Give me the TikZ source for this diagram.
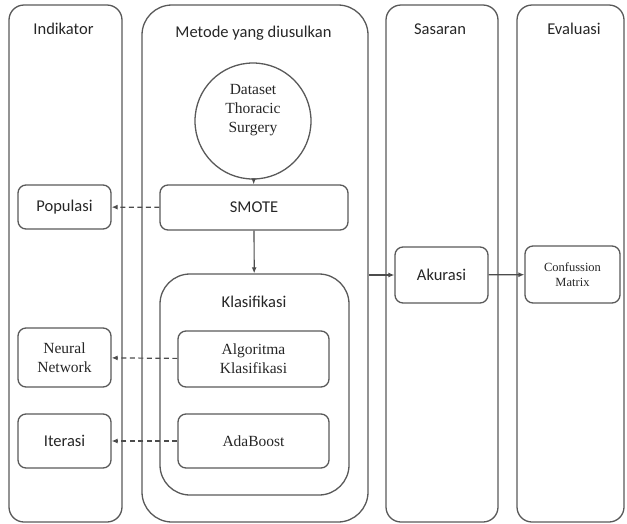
\documentclass[tikz,border=0pt]{standalone}
\usepackage{fontspec}
\setmainfont{Carlito}
\newfontfamily\timesfont{Liberation Serif}
\usetikzlibrary{positioning, arrows.meta}

\begin{document}
\begin{tikzpicture}[
    x=1pt, y=-1pt,
    lane/.style={rectangle, rounded corners=15pt, draw=black!65, line width=1.3pt,
        inner sep=0pt},
    box/.style={rectangle, rounded corners=8pt, draw=black!65, line width=1.3pt,
        align=center, inner sep=0pt, text=black!85,
        font=\fontsize{16.5}{19}\selectfont},
    sbox/.style={box, font=\timesfont\fontsize{15.5}{19}\selectfont},
    title/.style={text=black!85, font=\fontsize{16.5}{19}\selectfont},
    arrow/.style={-{Latex[length=6pt, width=5pt]}, line width=1.2pt, draw=black!70},
    dasharrow/.style={arrow, dashed, dash pattern=on 5pt off 3.5pt}
]
\useasboundingbox (0,0) rectangle (627,523);

\node[lane, minimum width=113pt, minimum height=517pt] (indik) at (65.5,263.5) {};
\node[lane, rounded corners=30pt, minimum width=226pt, minimum height=517pt] (metode) at (255,263.5) {};
\node[lane, minimum width=112pt, minimum height=517pt] (sasaran) at (442,263.5) {};
\node[lane, minimum width=107pt, minimum height=517pt] (evaluasi) at (570.5,263.5) {};

\node[title] (tindik) at (63.5,29) {Indikator};
\node[title] (tmetode) at (253.5,33) {Metode yang diusulkan};
\node[title] (tsasaran) at (440,29) {Sasaran};
\node[title] (tevaluasi) at (574,29) {Evaluasi};

\node[box, circle, minimum size=116pt] (dataset) at (253,121) {};
\node[align=center, text=black!85, font=\timesfont\fontsize{15.5}{19}\selectfont]
    (tdataset) at (253,110) {Dataset\\Thoracic\\Surgery};
\node[box, minimum width=188pt, minimum height=45pt] (smote) at (254,207.5) {SMOTE};
\node[box, minimum width=93pt, minimum height=44pt] (populasi) at (64.5,207) {Populasi};

\node[lane, rounded corners=30pt, minimum width=189pt, minimum height=221pt] (klas) at (254.5,384.5) {};
\node[title] (tklas) at (254,302) {Klasifikasi};
\node[sbox, minimum width=151pt, minimum height=56pt] (algo) at (253.5,359) {Algoritma\\Klasifikasi};
\node[sbox, minimum width=151pt, minimum height=54pt] (ada) at (253.5,441) {AdaBoost};
\node[sbox, minimum width=93pt, minimum height=59pt] (neural) at (64.5,357.5) {Neural\\Network};
\node[box, minimum width=93pt, minimum height=54pt] (iterasi) at (64.5,441) {Iterasi};

\node[box, minimum width=93pt, minimum height=56pt] (akurasi) at (441.5,275) {Akurasi};
\node[sbox, minimum width=95pt, minimum height=57pt,
    font=\timesfont\fontsize{12.5}{15.5}\selectfont] (confusion) at (572.5,274.5) {Confussion\\Matrix};

\draw[arrow] (dataset) -- (smote);
\draw[arrow] (smote) -- (klas);
\draw[dasharrow] (smote) -- (populasi);
\draw[dasharrow] (algo) -- (neural);
\draw[dasharrow] (ada) -- (iterasi);
\draw[arrow] (metode.east |- akurasi.west) -- (akurasi.west);
\draw[arrow] (akurasi) -- (confusion);
\end{tikzpicture}
\end{document}
